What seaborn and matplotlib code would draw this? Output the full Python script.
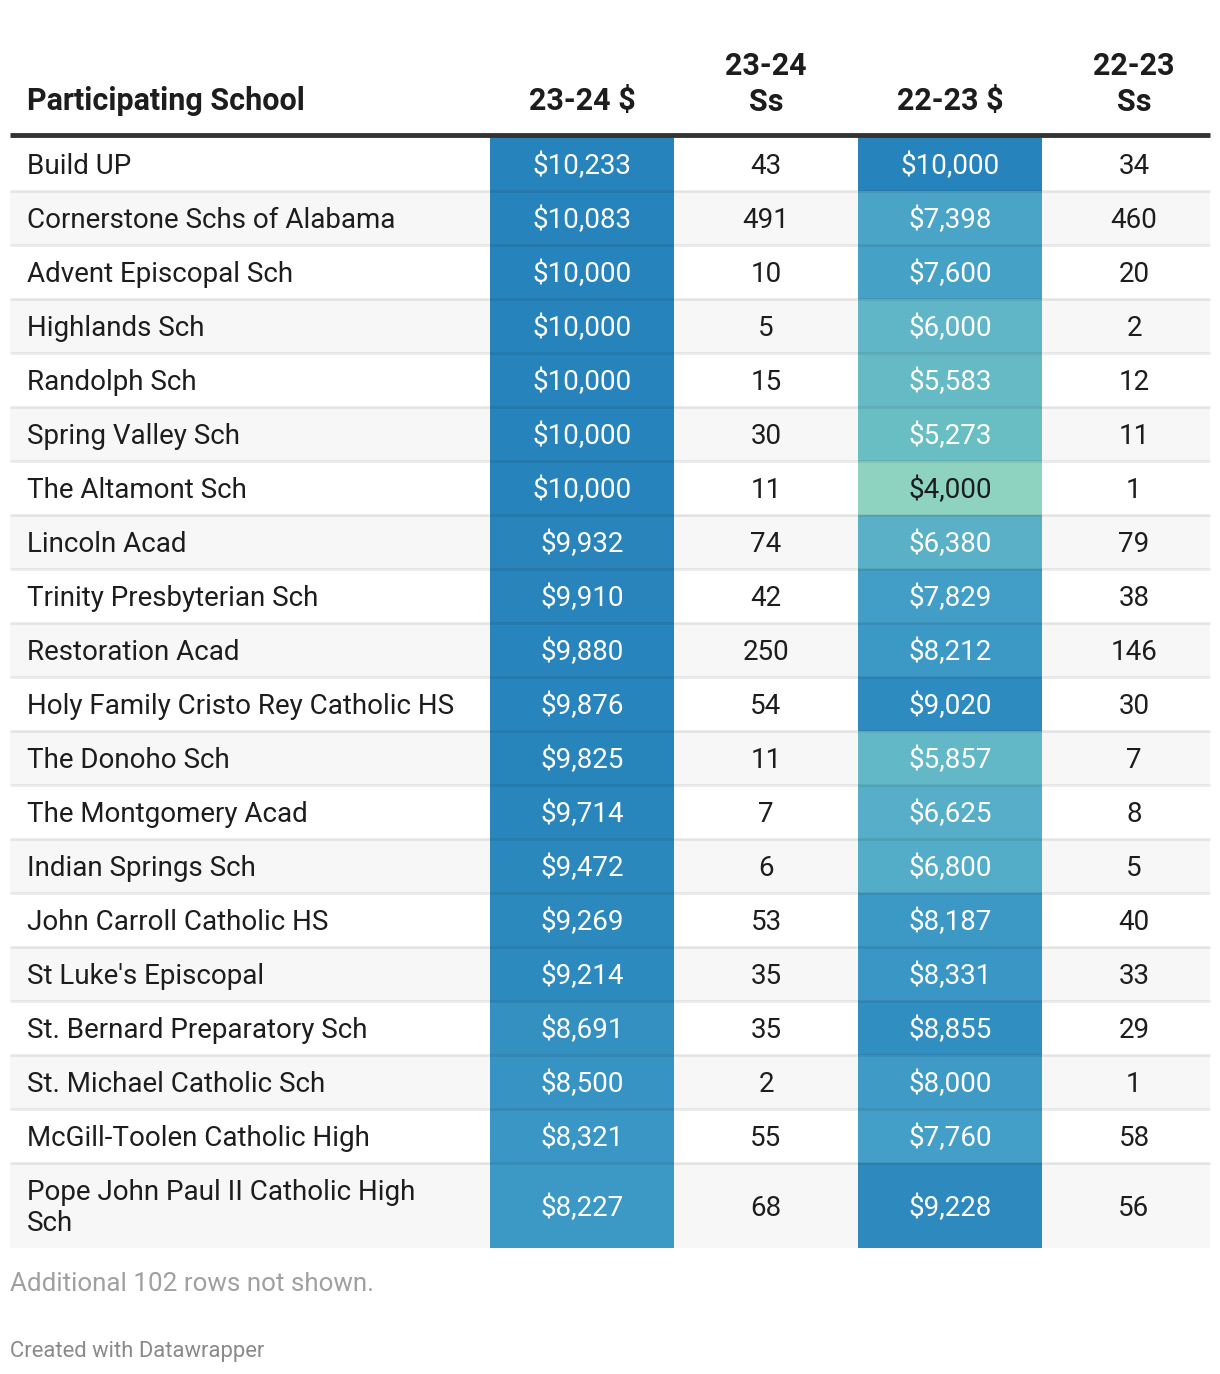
import matplotlib
matplotlib.use("Agg")
import matplotlib.pyplot as plt
from matplotlib.colors import Normalize
import numpy as np
import seaborn as sns

# ---------------- data ----------------
schools = [
    "Build UP", "Cornerstone Schs of Alabama", "Advent Episcopal Sch", "Highlands Sch",
    "Randolph Sch", "Spring Valley Sch", "The Altamont Sch", "Lincoln Acad",
    "Trinity Presbyterian Sch", "Restoration Acad", "Holy Family Cristo Rey Catholic HS",
    "The Donoho Sch", "The Montgomery Acad", "Indian Springs Sch", "John Carroll Catholic HS",
    "St Luke's Episcopal", "St. Bernard Preparatory Sch", "St. Michael Catholic Sch",
    "McGill-Toolen Catholic High", "Pope John Paul II Catholic High\nSch",
]
usd_2324 = [10233, 10083, 10000, 10000, 10000, 10000, 10000, 9932, 9910, 9880,
            9876, 9825, 9714, 9472, 9269, 9214, 8691, 8500, 8321, 8227]
ss_2324 = [43, 491, 10, 5, 15, 30, 11, 74, 42, 250, 54, 11, 7, 6, 53, 35, 35, 2, 55, 68]
usd_2223 = [10000, 7398, 7600, 6000, 5583, 5273, 4000, 6380, 7829, 8212,
            9020, 5857, 6625, 6800, 8187, 8331, 8855, 8000, 7760, 9228]
ss_2223 = [34, 460, 20, 2, 12, 11, 1, 79, 38, 146, 30, 7, 8, 5, 40, 33, 29, 1, 58, 56]
headers = ["Participating School", "23-24 $", "23-24\nSs", "22-23 $", "22-23\nSs"]
note = "Additional 102 rows not shown."
credit = "Created with Datawrapper"

# ---------------- style ----------------
sns.set_theme(style="white")
plt.rcParams["font.family"] = ["Roboto", "DejaVu Sans"]

grad_colors = ["#8ed2c0", "#6cc0c3", "#60b6c6", "#4fa9c9", "#3f9bc6", "#2e8bbf", "#2783bb"]
cmap = sns.blend_palette(grad_colors, as_cmap=True)
norm = Normalize(vmin=4000, vmax=10050, clip=True)

W, H = 1220, 1374
fig = plt.figure(figsize=(W / 100, H / 100), dpi=100)
ax = fig.add_axes([0, 0, 1, 1])
ax.set_xlim(0, W)
ax.set_ylim(H, 0)
ax.axis("off")

left, right = 10, 1210
col_edges = [490, 674, 858, 1042, 1210]
col_centers = [582, 766, 950, 1134]
top = 137
row_h = 54
n = len(schools)
row_heights = [row_h] * (n - 1) + [85]
y_edges = np.concatenate([[top], top + np.cumsum(row_heights)])

txt_dark = "#1d1d1d"
fs_body = 20
fs_head = 22

# row backgrounds (zebra)
for i in range(n):
    if i % 2 == 1:
        ax.fill_between([left, right], y_edges[i], y_edges[i + 1], color="#f7f7f7", lw=0, zorder=0)

# coloured columns
for ci, vals in [(0, usd_2324), (2, usd_2223)]:
    C = np.array(vals, dtype=float).reshape(-1, 1)
    ax.pcolormesh([col_edges[ci], col_edges[ci + 1]], y_edges, C, cmap=cmap, norm=norm,
                  shading="flat", zorder=1)

# separators
for i in range(1, n):
    ax.plot([left, right], [y_edges[i], y_edges[i]], color="#000000", alpha=0.08, lw=2,
            solid_capstyle="butt", zorder=2)
ax.plot([left, right], [top - 2, top - 2], color="#333333", lw=3.5, solid_capstyle="butt", zorder=3)

# headers
ax.text(27, 101, headers[0], ha="left", va="center", fontsize=fs_head, fontweight="bold", color=txt_dark)
for j, h in enumerate(headers[1:]):
    if "\n" in h:
        ax.text(col_centers[j], 84, h, ha="center", va="center", fontsize=fs_head, fontweight="bold",
                color=txt_dark, linespacing=1.25)
    else:
        ax.text(col_centers[j], 101, h, ha="center", va="center", fontsize=fs_head, fontweight="bold",
                color=txt_dark)

def txt_color(v):
    r, g, b = cmap(norm(v))[:3]
    lum = 0.299 * r + 0.587 * g + 0.114 * b
    return txt_dark if lum > 0.7 else "white"

for i in range(n):
    yc = (y_edges[i] + y_edges[i + 1]) / 2 + 2.5
    ax.text(27, yc, schools[i], ha="left", va="center", fontsize=fs_body, color=txt_dark,
            linespacing=1.15, zorder=4)
    ax.text(col_centers[0], yc, f"${usd_2324[i]:,}", ha="center", va="center", fontsize=fs_body,
            color=txt_color(usd_2324[i]), zorder=4)
    ax.text(col_centers[1], yc, f"{ss_2324[i]}", ha="center", va="center", fontsize=fs_body,
            color=txt_dark, zorder=4)
    ax.text(col_centers[2], yc, f"${usd_2223[i]:,}", ha="center", va="center", fontsize=fs_body,
            color=txt_color(usd_2223[i]), zorder=4)
    ax.text(col_centers[3], yc, f"{ss_2223[i]}", ha="center", va="center", fontsize=fs_body,
            color=txt_dark, zorder=4)

ax.text(10, 1284, note, ha="left", va="center", fontsize=18.7, color="#a0a0a0")
ax.text(10, 1351, credit, ha="left", va="center", fontsize=15.8, color="#8a8a8a")

fig.savefig("out.png", dpi=100, facecolor="white")
